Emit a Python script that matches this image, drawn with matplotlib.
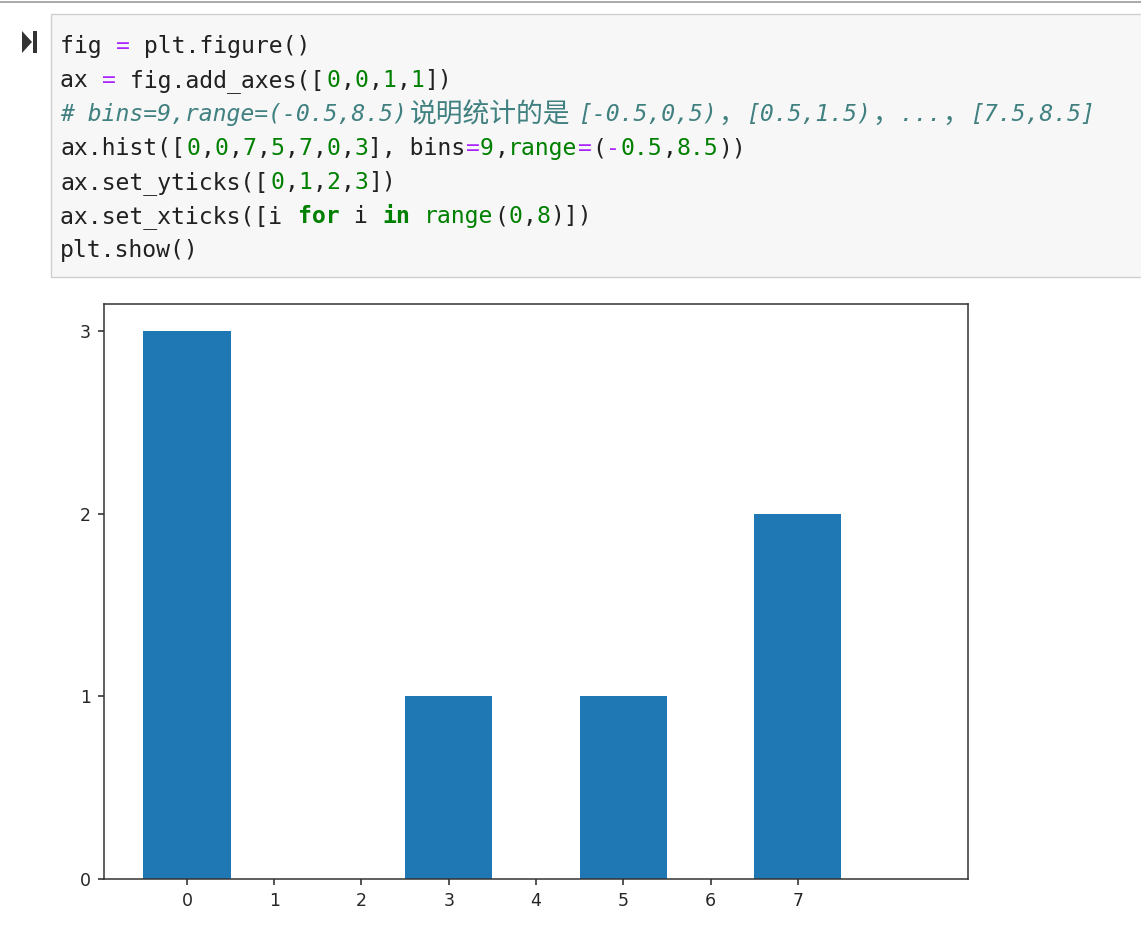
"""
Jupyter cell screenshot: histogram code + its output
"""

import re
import unicodedata

import matplotlib
matplotlib.use('Agg')
import matplotlib.pyplot as plt
from matplotlib.patches import Polygon, Rectangle

W, H = 1141, 925

# data for the histogram
hist_values = [0, 0, 7, 5, 7, 0, 3]
hist_bins = 9
hist_range = (-0.5, 8.5)
y_ticks = [0, 1, 2, 3]
x_ticks = list(range(0, 8))

# code shown in the cell
code_lines = [
    "fig = plt.figure()",
    "ax = fig.add_axes([0,0,1,1])",
    "# bins=9,range=(-0.5,8.5)说明统计的是[-0.5,0,5)，[0.5,1.5)，...，[7.5,8.5]",
    "ax.hist([0,0,7,5,7,0,3], bins=9,range=(-0.5,8.5))",
    "ax.set_yticks([0,1,2,3])",
    "ax.set_xticks([i for i in range(0,8)])",
    "plt.show()",
]

STYLES = {
    'plain':   dict(color='#212121'),
    'comment': dict(color='#408080', style='italic'),
    'kw':      dict(color='#008000', weight='bold'),
    'builtin': dict(color='#008000'),
    'num':     dict(color='#008000'),
    'op':      dict(color='#aa22ff'),
}

TOKEN = re.compile(r"(?P<comment>#.*)|(?P<kw>\b(?:for|in)\b)|(?P<builtin>\brange\b)"
                   r"|(?P<num>\b\d+(?:\.\d+)?)|(?P<op>[=\-])")

COL_W = 14.0      # px per monospace column
X0 = 60.0         # px, first column
BASE0 = 53.0      # px, baseline of first line
LINE_H = 34.0     # px


def fx(x):
    return x / W


def fy(y):
    return 1 - y / H


def tokens(line):
    pos = 0
    for m in TOKEN.finditer(line):
        if m.start() > pos:
            yield line[pos:m.start()], 'plain'
        yield m.group(), m.lastgroup
        pos = m.end()
    if pos < len(line):
        yield line[pos:], 'plain'


def is_wide(ch):
    return unicodedata.east_asian_width(ch) in 'WF'


def runs(text):
    """split text into (chunk, wide) runs"""
    out = []
    for ch in text:
        w = is_wide(ch)
        if out and out[-1][1] == w:
            out[-1][0] += ch
        else:
            out.append([ch, w])
    return out


def draw_code(fig):
    for i, line in enumerate(code_lines):
        y = BASE0 + i * LINE_H
        col = 0
        for tok, kind in tokens(line):
            st = STYLES[kind]
            for chunk, wide in runs(tok):
                if wide:
                    fig.text(fx(X0 + col * COL_W), fy(y + 1), chunk,
                             family=['Noto Sans CJK SC', 'DejaVu Sans'],
                             fontsize=19.3, va='baseline', ha='left',
                             color=st['color'])
                    col += 2 * len(chunk)
                else:
                    fig.text(fx(X0 + col * COL_W), fy(y), chunk,
                             family=['DejaVu Sans Mono', 'Noto Sans CJK SC'],
                             fontsize=16.7, va='baseline', ha='left', **st)
                    col += len(chunk)


def main():
    fig = plt.figure(figsize=(W / 100, H / 100), dpi=100)
    fig.patch.set_facecolor('white')

    # notebook chrome
    fig.add_artist(Rectangle((0, fy(3)), 1, 2 / H, transform=fig.transFigure,
                             facecolor='#ababab', edgecolor='none'))
    fig.add_artist(Rectangle((fx(51), fy(277)), fx(W + 10 - 51), (277 - 14) / H,
                             transform=fig.transFigure, facecolor='#f7f7f7',
                             edgecolor='#cfcfcf', linewidth=1.0))
    fig.add_artist(Polygon([(fx(22), fy(31)), (fx(22), fy(53)), (fx(32), fy(42))],
                           closed=True, transform=fig.transFigure,
                           facecolor='#333333', edgecolor='none'))
    fig.add_artist(Rectangle((fx(32.5), fy(53)), 4.8 / W, 22 / H,
                             transform=fig.transFigure, facecolor='#333333',
                             edgecolor='none'))

    draw_code(fig)

    # the output chart
    ax = fig.add_axes([fx(104), fy(879), 864 / W, 575 / H])
    ax.hist(hist_values, bins=hist_bins, range=hist_range, color='#1f77b4')
    ax.set_yticks(y_ticks)
    ax.set_xticks(x_ticks)
    ax.tick_params(labelsize=12.5, length=4.5, width=1.1, pad=5, colors='#262626')
    for s in ax.spines.values():
        s.set_linewidth(1.1)
        s.set_color('#333333')

    fig.savefig('out.png', dpi=100)


if __name__ == '__main__':
    main()
